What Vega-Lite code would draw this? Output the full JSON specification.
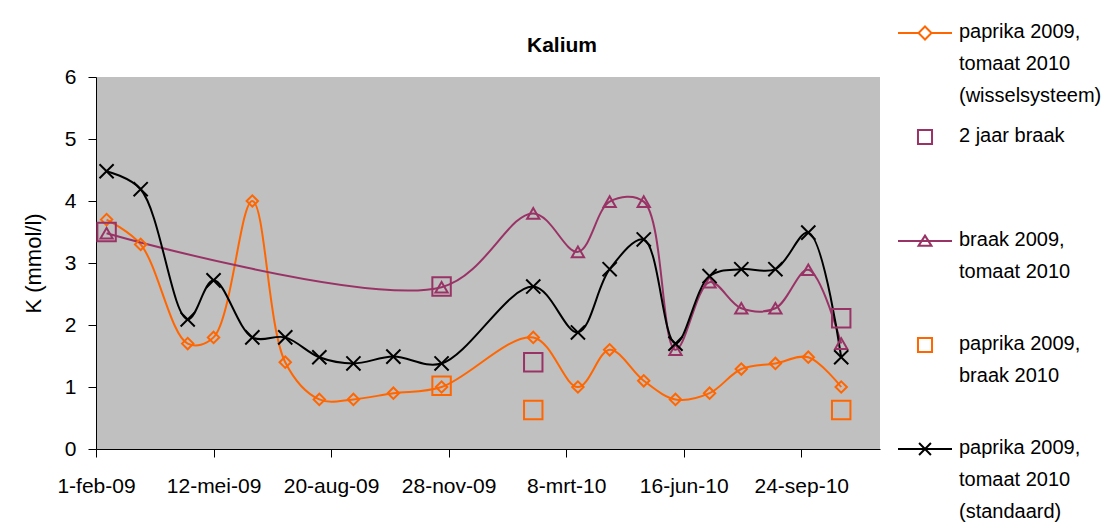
{
  "$schema": "https://vega.github.io/schema/vega-lite/v6.json",
  "width": 784,
  "height": 372,
  "autosize": "none",
  "padding": {"left": 96, "top": 77, "right": 232, "bottom": 78},
  "background": "white",
  "title": {"text": "Kalium", "font": "Liberation Sans", "fontSize": 21, "fontWeight": "bold", "color": "black", "anchor": "middle", "dx": 74, "offset": 0, "dy": 51},
  "config": {"view": {"fill": "#C0C0C0", "stroke": null}, "font": "Liberation Sans"},
  "data": {"values": [
    {"series": "paprika 2009, tomaat 2010 (wisselsysteem)", "date": "2009-02-10", "value": 3.7},
    {"series": "paprika 2009, tomaat 2010 (wisselsysteem)", "date": "2009-03-11", "value": 3.3},
    {"series": "paprika 2009, tomaat 2010 (wisselsysteem)", "date": "2009-04-20", "value": 1.7},
    {"series": "paprika 2009, tomaat 2010 (wisselsysteem)", "date": "2009-05-12", "value": 1.8},
    {"series": "paprika 2009, tomaat 2010 (wisselsysteem)", "date": "2009-06-14", "value": 4.0},
    {"series": "paprika 2009, tomaat 2010 (wisselsysteem)", "date": "2009-07-12", "value": 1.4},
    {"series": "paprika 2009, tomaat 2010 (wisselsysteem)", "date": "2009-08-10", "value": 0.8},
    {"series": "paprika 2009, tomaat 2010 (wisselsysteem)", "date": "2009-09-08", "value": 0.8},
    {"series": "paprika 2009, tomaat 2010 (wisselsysteem)", "date": "2009-10-12", "value": 0.9},
    {"series": "paprika 2009, tomaat 2010 (wisselsysteem)", "date": "2009-11-22", "value": 1.0},
    {"series": "paprika 2009, tomaat 2010 (wisselsysteem)", "date": "2010-02-08", "value": 1.8},
    {"series": "paprika 2009, tomaat 2010 (wisselsysteem)", "date": "2010-03-18", "value": 1.0},
    {"series": "paprika 2009, tomaat 2010 (wisselsysteem)", "date": "2010-04-14", "value": 1.6},
    {"series": "paprika 2009, tomaat 2010 (wisselsysteem)", "date": "2010-05-13", "value": 1.1},
    {"series": "paprika 2009, tomaat 2010 (wisselsysteem)", "date": "2010-06-09", "value": 0.8},
    {"series": "paprika 2009, tomaat 2010 (wisselsysteem)", "date": "2010-07-08", "value": 0.9},
    {"series": "paprika 2009, tomaat 2010 (wisselsysteem)", "date": "2010-08-04", "value": 1.29},
    {"series": "paprika 2009, tomaat 2010 (wisselsysteem)", "date": "2010-09-02", "value": 1.38},
    {"series": "paprika 2009, tomaat 2010 (wisselsysteem)", "date": "2010-09-30", "value": 1.48},
    {"series": "paprika 2009, tomaat 2010 (wisselsysteem)", "date": "2010-10-28", "value": 1.0},
    {"series": "2 jaar braak", "date": "2009-02-10", "value": 3.5},
    {"series": "2 jaar braak", "date": "2009-11-22", "value": 2.62},
    {"series": "2 jaar braak", "date": "2010-02-08", "value": 1.4},
    {"series": "2 jaar braak", "date": "2010-10-28", "value": 2.11},
    {"series": "braak 2009, tomaat 2010", "date": "2009-02-10", "value": 3.48},
    {"series": "braak 2009, tomaat 2010", "date": "2009-11-22", "value": 2.61},
    {"series": "braak 2009, tomaat 2010", "date": "2010-02-08", "value": 3.8},
    {"series": "braak 2009, tomaat 2010", "date": "2010-03-18", "value": 3.18},
    {"series": "braak 2009, tomaat 2010", "date": "2010-04-14", "value": 3.99},
    {"series": "braak 2009, tomaat 2010", "date": "2010-05-13", "value": 3.99},
    {"series": "braak 2009, tomaat 2010", "date": "2010-06-09", "value": 1.6},
    {"series": "braak 2009, tomaat 2010", "date": "2010-07-08", "value": 2.69},
    {"series": "braak 2009, tomaat 2010", "date": "2010-08-04", "value": 2.27},
    {"series": "braak 2009, tomaat 2010", "date": "2010-09-02", "value": 2.27},
    {"series": "braak 2009, tomaat 2010", "date": "2010-09-30", "value": 2.89},
    {"series": "braak 2009, tomaat 2010", "date": "2010-10-28", "value": 1.7},
    {"series": "paprika 2009, braak 2010", "date": "2009-11-22", "value": 1.02},
    {"series": "paprika 2009, braak 2010", "date": "2010-02-08", "value": 0.63},
    {"series": "paprika 2009, braak 2010", "date": "2010-10-28", "value": 0.63},
    {"series": "paprika 2009, tomaat 2010 (standaard)", "date": "2009-02-10", "value": 4.48},
    {"series": "paprika 2009, tomaat 2010 (standaard)", "date": "2009-03-11", "value": 4.19},
    {"series": "paprika 2009, tomaat 2010 (standaard)", "date": "2009-04-20", "value": 2.09},
    {"series": "paprika 2009, tomaat 2010 (standaard)", "date": "2009-05-12", "value": 2.72},
    {"series": "paprika 2009, tomaat 2010 (standaard)", "date": "2009-06-14", "value": 1.8},
    {"series": "paprika 2009, tomaat 2010 (standaard)", "date": "2009-07-12", "value": 1.8},
    {"series": "paprika 2009, tomaat 2010 (standaard)", "date": "2009-08-10", "value": 1.48},
    {"series": "paprika 2009, tomaat 2010 (standaard)", "date": "2009-09-08", "value": 1.38},
    {"series": "paprika 2009, tomaat 2010 (standaard)", "date": "2009-10-12", "value": 1.49},
    {"series": "paprika 2009, tomaat 2010 (standaard)", "date": "2009-11-22", "value": 1.38},
    {"series": "paprika 2009, tomaat 2010 (standaard)", "date": "2010-02-08", "value": 2.62},
    {"series": "paprika 2009, tomaat 2010 (standaard)", "date": "2010-03-18", "value": 1.88},
    {"series": "paprika 2009, tomaat 2010 (standaard)", "date": "2010-04-14", "value": 2.9},
    {"series": "paprika 2009, tomaat 2010 (standaard)", "date": "2010-05-13", "value": 3.38},
    {"series": "paprika 2009, tomaat 2010 (standaard)", "date": "2010-06-09", "value": 1.7},
    {"series": "paprika 2009, tomaat 2010 (standaard)", "date": "2010-07-08", "value": 2.79},
    {"series": "paprika 2009, tomaat 2010 (standaard)", "date": "2010-08-04", "value": 2.9},
    {"series": "paprika 2009, tomaat 2010 (standaard)", "date": "2010-09-02", "value": 2.9},
    {"series": "paprika 2009, tomaat 2010 (standaard)", "date": "2010-09-30", "value": 3.49},
    {"series": "paprika 2009, tomaat 2010 (standaard)", "date": "2010-10-28", "value": 1.48}
  ]},
  "encoding": {
    "x": {
      "field": "date", "type": "temporal",
      "scale": {"type": "utc", "nice": false, "domain": [{"year": 2009, "month": 2, "date": 1, "utc": true}, {"year": 2010, "month": 11, "date": 30, "utc": true}]},
      "axis": {
        "title": null, "grid": false,
        "values": [
          {"year": 2009, "month": 2, "date": 1, "utc": true},
          {"year": 2009, "month": 5, "date": 12, "utc": true},
          {"year": 2009, "month": 8, "date": 20, "utc": true},
          {"year": 2009, "month": 11, "date": 28, "utc": true},
          {"year": 2010, "month": 3, "date": 8, "utc": true},
          {"year": 2010, "month": 6, "date": 16, "utc": true},
          {"year": 2010, "month": 9, "date": 24, "utc": true}
        ],
        "labelExpr": "utcdate(datum.value) + '-' + ['jan','feb','mrt','apr','mei','jun','jul','aug','sep','okt','nov','dec'][utcmonth(datum.value)] + '-' + utcFormat(datum.value, '%y')",
        "domainColor": "black", "tickColor": "black", "tickSize": 8, "domainWidth": 1, "tickWidth": 1,
        "labelFont": "Liberation Sans", "labelFontSize": 21, "labelColor": "black", "labelPadding": 18,
        "labelOverlap": false, "labelFlush": false
      }
    },
    "y": {
      "field": "value", "type": "quantitative",
      "scale": {"domain": [0, 6], "nice": false},
      "axis": {
        "values": [0, 1, 2, 3, 4, 5, 6], "title": "K (mmol/l)", "grid": false,
        "titleFont": "Liberation Sans", "titleFontSize": 22, "titleFontWeight": "normal", "titleColor": "black", "titlePadding": 19,
        "domainColor": "black", "tickColor": "black", "tickSize": 8, "domainWidth": 1, "tickWidth": 1,
        "labelFont": "Liberation Sans", "labelFontSize": 21, "labelColor": "black", "labelPadding": 12
      }
    },
    "color": {
      "field": "series", "type": "nominal",
      "scale": {
        "domain": ["paprika 2009, tomaat 2010 (wisselsysteem)", "2 jaar braak", "braak 2009, tomaat 2010", "paprika 2009, braak 2010", "paprika 2009, tomaat 2010 (standaard)"],
        "range": ["#FF6600", "#993366", "#993366", "#FF6600", "#000000"]
      },
      "legend": {
        "title": null, "orient": "none", "legendX": 801, "legendY": -72,
        "direction": "vertical", "columns": 1, "gridAlign": "all", "rowPadding": 3,
        "labelFont": "Liberation Sans", "labelFontSize": 20, "labelColor": "black", "labelLimit": 400, "labelOffset": 6, "labelBaseline": "top",
        "labelExpr": "split(replace(replace(datum.label, ', ', ',|'), ' (', '|('), '|')",
        "symbolStrokeWidth": 2,
        "encode": {
          "symbols": {"update": {
            "size": {"value": 2916},
            "strokeWidth": {"value": 2},
            "fill": {"value": "transparent"},
            "shape": {"signal": "datum.value === 'paprika 2009, tomaat 2010 (wisselsysteem)' ? 'M-1,0H-0.24M0.24,0H1M0,-0.24L0.24,0L0,0.24L-0.24,0Z' : datum.value === 'braak 2009, tomaat 2010' ? 'M-1,0H1M0,-0.2L0.24,0.18L-0.24,0.18Z' : datum.value === 'paprika 2009, tomaat 2010 (standaard)' ? 'M-1,0H1M-0.22,-0.22L0.22,0.22M0.22,-0.22L-0.22,0.22' : 'M-0.26,-0.26H0.26V0.26H-0.26Z'"}
          }},
          "labels": {"update": {"dy": {"value": -11}, "lineHeight": {"value": 32}}}
        }
      }
    }
  },
  "layer": [
    {
      "transform": [{"filter": {"field": "series", "oneOf": ["paprika 2009, tomaat 2010 (wisselsysteem)", "braak 2009, tomaat 2010", "paprika 2009, tomaat 2010 (standaard)"]}}],
      "mark": {"type": "line", "interpolate": "catmull-rom", "strokeWidth": 2}
    },
    {
      "transform": [{"filter": {"field": "series", "equal": "paprika 2009, tomaat 2010 (wisselsysteem)"}}],
      "mark": {"type": "point", "shape": "diamond", "size": 130, "filled": false, "strokeWidth": 2, "opacity": 1}
    },
    {
      "transform": [{"filter": {"field": "series", "equal": "braak 2009, tomaat 2010"}}],
      "mark": {"type": "point", "shape": "triangle-up", "size": 150, "filled": false, "strokeWidth": 2, "opacity": 1}
    },
    {
      "transform": [{"filter": {"field": "series", "oneOf": ["2 jaar braak", "paprika 2009, braak 2010"]}}],
      "mark": {"type": "point", "shape": "square", "size": 340, "filled": false, "strokeWidth": 2, "opacity": 1}
    },
    {
      "transform": [{"filter": {"field": "series", "equal": "paprika 2009, tomaat 2010 (standaard)"}}],
      "mark": {"type": "point", "shape": "M-1,-1L1,1M1,-1L-1,1", "size": 200, "filled": false, "strokeWidth": 2, "opacity": 1}
    }
  ]
}
